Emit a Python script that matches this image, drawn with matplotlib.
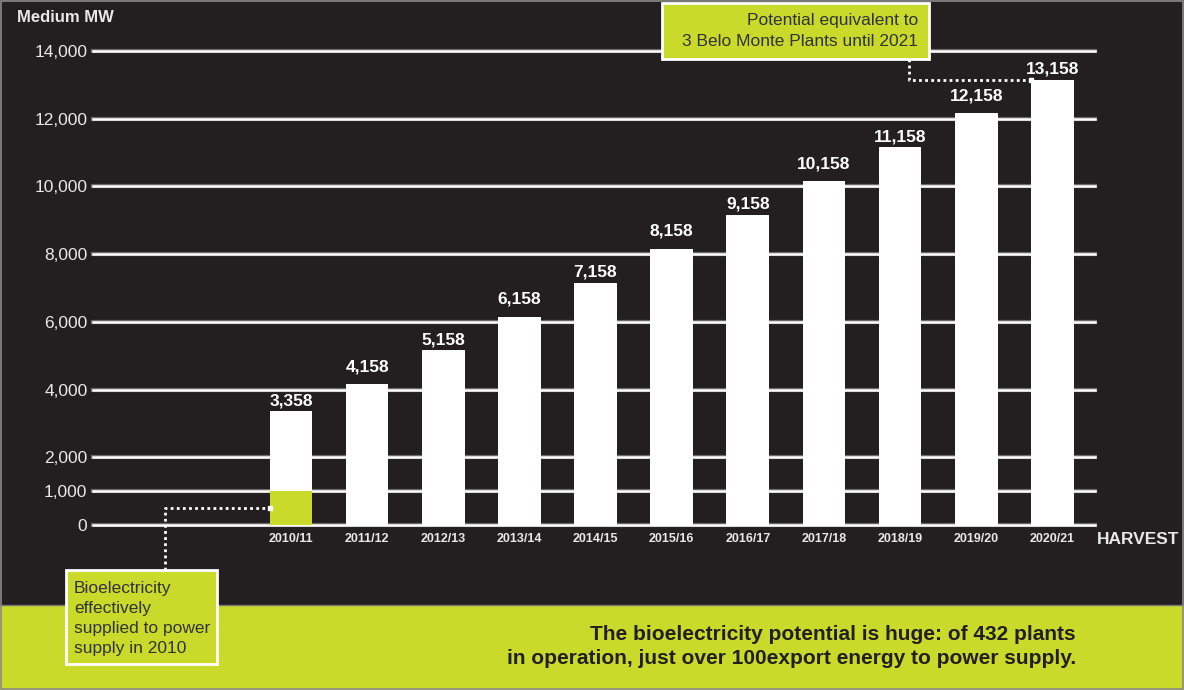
import matplotlib.pyplot as plt
from matplotlib.patches import Rectangle
from matplotlib.lines import Line2D
import matplotlib.patheffects as pe

plt.rcParams['font.family'] = ['Liberation Sans', 'DejaVu Sans']

# Harvest seasons and bioelectricity potential (average MW)
harvests = ['2010/11', '2011/12', '2012/13', '2013/14', '2014/15', '2015/16',
            '2016/17', '2017/18', '2018/19', '2019/20', '2020/21']
potential_mw = [3358, 4158, 5158, 6158, 7158, 8158, 9158, 10158, 11158, 12158, 13158]
supplied_2010_mw = 1000
y_ticks = [0, 1000, 2000, 4000, 6000, 8000, 10000, 12000, 14000]

DARK = '#231f20'
LIME = '#c9da2a'
TEXT_DARK = '#333333'
LIGHT = '#e8e8e8'

W, H = 1184, 690
fig = plt.figure(figsize=(W / 100, H / 100), dpi=100, facecolor=DARK)


def px(x, y):
    """Pixel position (from top-left) to figure fraction."""
    return x / W, 1 - y / H


# green band at the bottom
band_top = 605
fig.patches.append(Rectangle((0, 0), 1, 1 - band_top / H, transform=fig.transFigure,
                             facecolor=LIME, edgecolor='none', zorder=0))
fig.lines.append(Line2D([0, 1], [1 - band_top / H] * 2, transform=fig.transFigure,
                        color='#777777', lw=1, zorder=1))
# thin outer frame
fig.patches.append(Rectangle((0.001, 0.001), 0.998, 0.997, transform=fig.transFigure,
                             facecolor='none', edgecolor='#8a8a8a', lw=1.2, zorder=10))

# plot area
left, right, top, bottom = 93, 1095, 51, 525
ax = fig.add_axes([left / W, 1 - bottom / H, (right - left) / W, (bottom - top) / H])
ax.set_facecolor('none')
ax.set_xlim(-2.6, 10.56)
ax.set_ylim(0, 14000)
for s in ax.spines.values():
    s.set_visible(False)

# gridlines sit behind the bars
for v in y_ticks:
    ax.axhline(v, 0, 1, color='white', lw=1.8, zorder=1, clip_on=False,
               path_effects=[pe.Stroke(linewidth=3.0, foreground='#6a6a6a'), pe.Normal()])

bar_w = 0.56
xs = list(range(len(harvests)))
ax.bar(xs, potential_mw, width=bar_w, color='white', zorder=2)
ax.bar([0], [supplied_2010_mw], width=bar_w, color=LIME, zorder=3)

# value labels; pull a label down when a gridline sits right above its bar
for x, v in zip(xs, potential_mw):
    gap = 290
    if any(0 < t - v < 900 for t in y_ticks):
        gap = 90
    ax.text(x, v + gap, f'{v:,}', ha='center', va='bottom', color='white',
            fontsize=12.5, fontweight='bold', zorder=5, clip_on=False)

ax.set_yticks(y_ticks)
ax.set_yticklabels([f'{v:,}' for v in y_ticks], fontsize=12.5, color=LIGHT)
ax.set_xticks(xs)
ax.set_xticklabels(harvests, fontsize=9, fontweight='bold', color=LIGHT)
ax.tick_params(axis='y', length=0, pad=4)
ax.tick_params(axis='x', length=0, pad=6)

fig.text(*px(17, 18), 'Medium MW', fontsize=12, fontweight='bold', color=LIGHT,
         ha='left', va='center')
fig.text(*px(1097, 539), 'HARVEST', fontsize=12.5, fontweight='bold', color=LIGHT,
         ha='left', va='center')

to_fig = fig.transFigure.inverted()
dot_style = dict(color='white', lw=2, linestyle=(0, (1, 1.2)), transform=fig.transFigure,
                 zorder=8)

# top callout box
bx0, by0, bx1, by1 = 662, 3, 929, 59
fig.patches.append(Rectangle(px(bx0, by1), (bx1 - bx0) / W, (by1 - by0) / H,
                             transform=fig.transFigure, facecolor=LIME,
                             edgecolor='white', lw=2, zorder=9))
fig.text(*px(918, 21), 'Potential equivalent to', fontsize=12.5, color=TEXT_DARK,
         ha='right', va='center', zorder=10)
fig.text(*px(918, 42), '3 Belo Monte Plants until 2021', fontsize=12.5, color=TEXT_DARK,
         ha='right', va='center', zorder=10)
corner = to_fig.transform(ax.transData.transform((xs[-1] - bar_w / 2, potential_mw[-1])))
cx = 909 / W
fig.lines.append(Line2D([cx, cx, corner[0]], [1 - by1 / H, corner[1], corner[1]], **dot_style))
fig.lines.append(Line2D([corner[0]], [corner[1]], marker='s', ms=3.5, color='white',
                        transform=fig.transFigure, zorder=8))

# bottom-left callout box
lx0, ly0, lx1, ly1 = 66, 570, 217, 664
fig.patches.append(Rectangle(px(lx0, ly1), (lx1 - lx0) / W, (ly1 - ly0) / H,
                             transform=fig.transFigure, facecolor=LIME,
                             edgecolor='white', lw=2, zorder=9))
for i, line in enumerate(['Bioelectricity', 'effectively', 'supplied to power',
                          'supply in 2010']):
    fig.text(*px(74, 589 + i * 19.8), line, fontsize=12.5, color=TEXT_DARK,
             ha='left', va='center', zorder=10)
end = to_fig.transform(ax.transData.transform((xs[0] - bar_w / 2, supplied_2010_mw / 2)))
lx = 165 / W
fig.lines.append(Line2D([lx, lx, end[0]], [1 - ly0 / H, end[1], end[1]], **dot_style))
fig.lines.append(Line2D([end[0]], [end[1]], marker='s', ms=3.5, color='white',
                        transform=fig.transFigure, zorder=8))

# footer statement
fig.text(*px(1076, 634), 'The bioelectricity potential is huge: of 432 plants',
         fontsize=15, fontweight='bold', color=DARK, ha='right', va='center')
fig.text(*px(1076, 659), 'in operation, just over 100export energy to power supply.',
         fontsize=15, fontweight='bold', color=DARK, ha='right', va='center')

fig.savefig('out.png', dpi=100, facecolor=DARK)
